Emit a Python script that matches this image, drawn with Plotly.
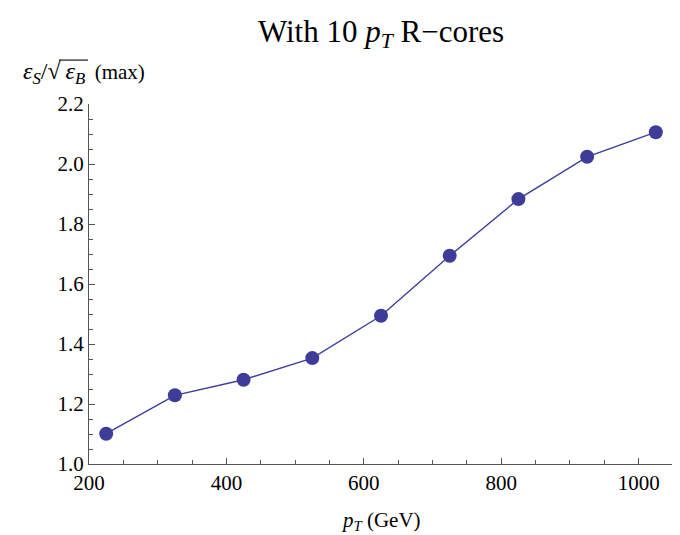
import plotly.graph_objects as go

pt = [225, 325, 425, 525, 625, 725, 825, 925, 1025]
ratio = [1.101, 1.229, 1.281, 1.353, 1.494, 1.694, 1.883, 2.024, 2.106]
x_ticks = [200, 400, 600, 800, 1000]
y_ticks = [1.0, 1.2, 1.4, 1.6, 1.8, 2.0, 2.2]

col = "#3d3d99"
font = "Liberation Serif, Times New Roman, serif"

fig = go.Figure()
fig.add_trace(go.Scatter(
    x=pt, y=ratio, mode="lines+markers",
    line=dict(color=col, width=1.4),
    marker=dict(color=col, size=14, line=dict(width=0)),
    cliponaxis=False, showlegend=False))

axis_common = dict(
    showgrid=False, zeroline=False, showline=True, linecolor="#555555", linewidth=1.2,
    ticks="inside", ticklen=6, tickwidth=1, tickcolor="#555555", automargin=False,
    tickfont=dict(family=font, size=21, color="black"),
)
fig.update_xaxes(range=[200, 1050], tickvals=x_ticks, ticktext=[str(v) for v in x_ticks],
                 minor=dict(dtick=50, tick0=200, ticks="inside", ticklen=3.5, tickcolor="#555555"),
                 **axis_common)
fig.update_yaxes(range=[1.0, 2.2], tickvals=y_ticks, ticktext=[f"{v:.1f}" for v in y_ticks],
                 minor=dict(dtick=0.05, tick0=1.0, ticks="inside", ticklen=3.5, tickcolor="#555555"),
                 **axis_common)

fig.update_layout(
    width=680, height=535,
    margin=dict(l=81, r=15, t=96, b=79, autoexpand=False),
    plot_bgcolor="white", paper_bgcolor="white",
    font=dict(family=font, color="black"),
    title=dict(text="With 10 <i>p<sub>T</sub></i> R\u2212cores", x=0.5, xref="paper",
               y=0.957, yref="container", xanchor="center", yanchor="middle", automargin=False,
               font=dict(family=font, size=31, color="black")),
)
# x-axis title
fig.add_annotation(
    text="<i>p<sub>T</sub></i> (GeV)",
    xref="paper", yref="paper", x=0.5, y=-0.158, xanchor="center", yanchor="middle",
    showarrow=False, font=dict(family=font, size=21, color="black"))
# y-axis title (horizontal, top-left)
fig.add_annotation(
    text="<span style='font-size:24px'><i>\u03b5<sub>S</sub></i>/\u221a\u2009<i>\u03b5<sub>B</sub></i></span>\u2009 (max)",
    xref="paper", yref="paper", x=-0.1164, y=1.086, xanchor="left", yanchor="middle",
    showarrow=False, font=dict(family=font, size=21, color="black"))
# vinculum of the square root
fig.add_shape(type="line", xref="paper", yref="paper",
              x0=-0.0514, x1=-0.0017, y0=1.122, y1=1.122,
              line=dict(color="black", width=1.1))

fig.write_html("out.html")
